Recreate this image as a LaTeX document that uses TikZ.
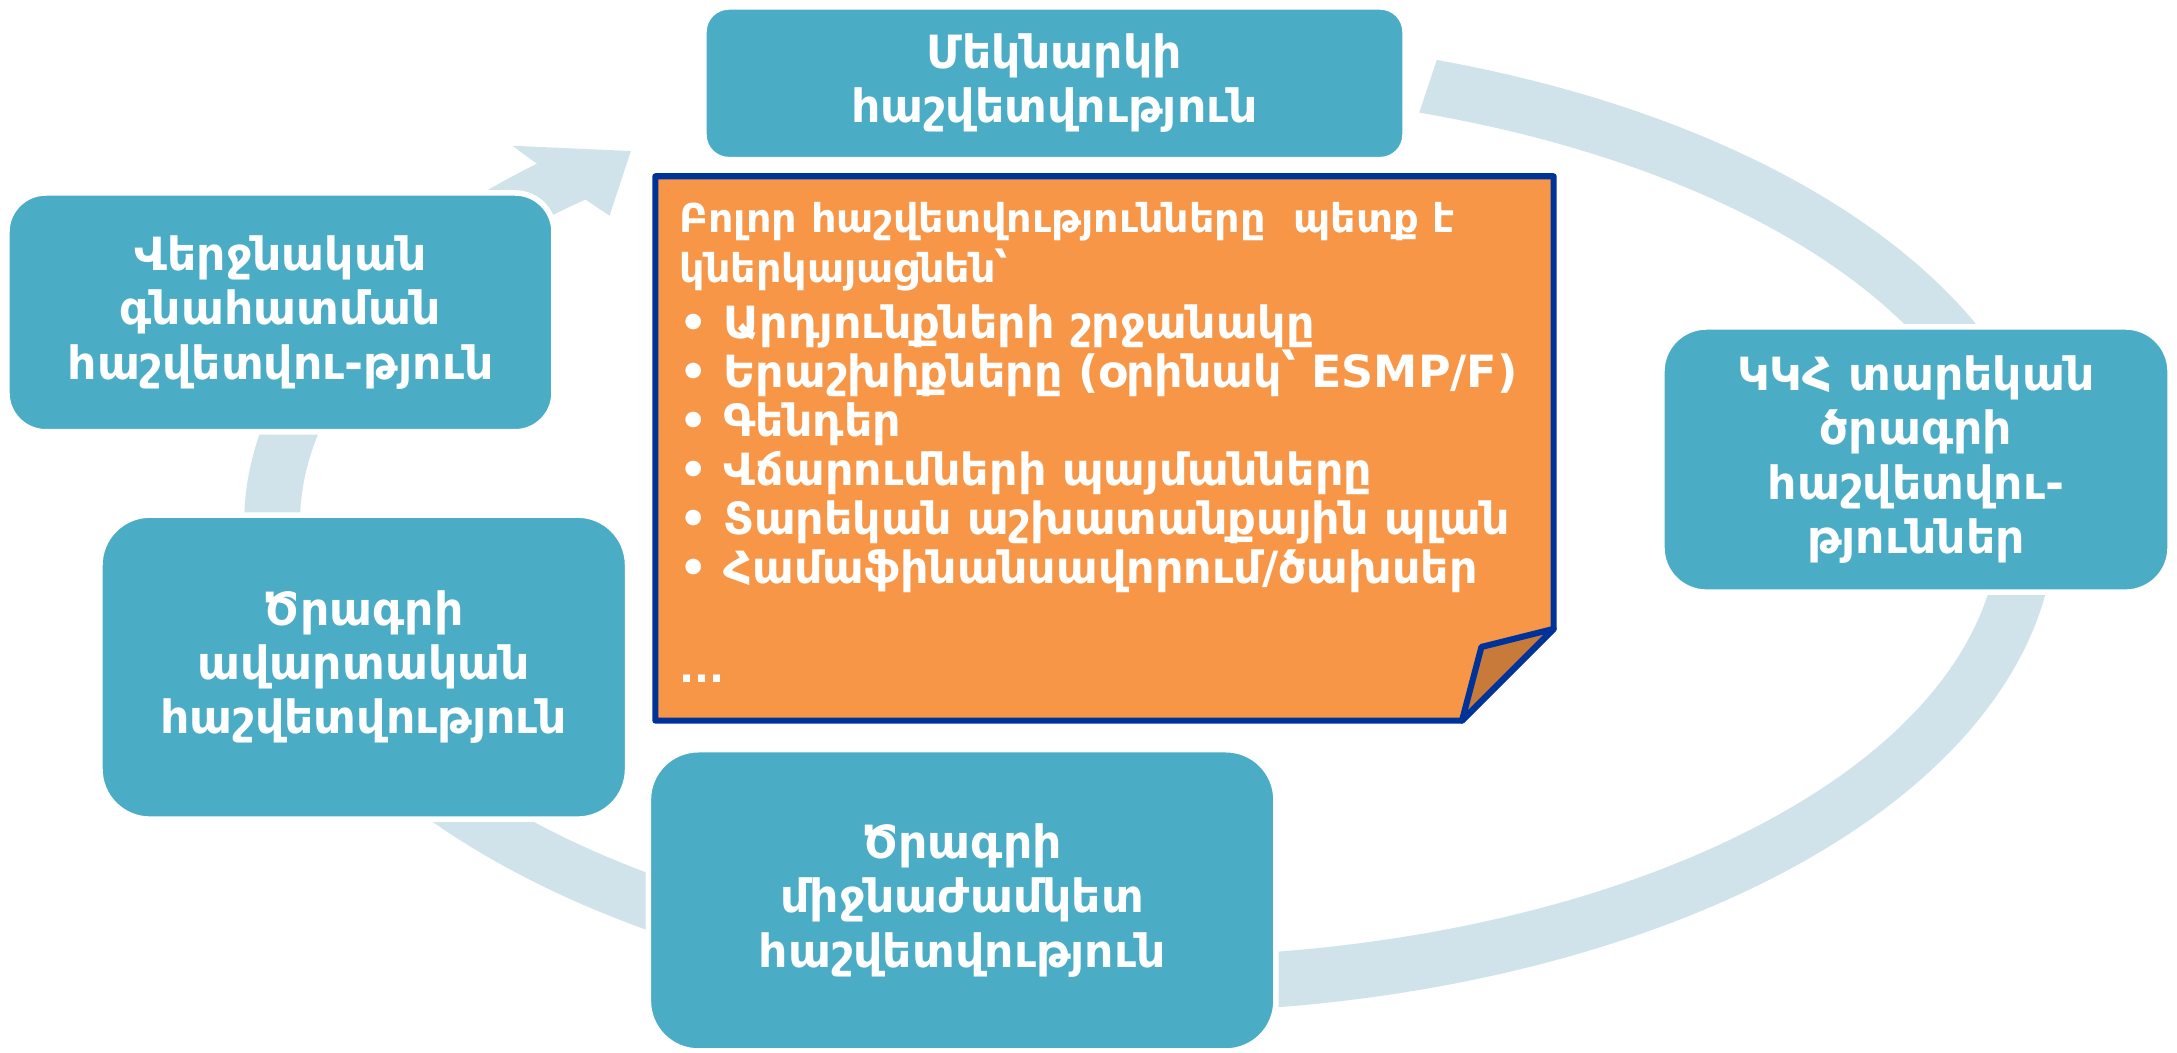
\documentclass[tikz,border=0pt]{standalone}
\usepackage{fontspec}
\setmainfont{DejaVu Sans}
\definecolor{ringc}{RGB}{208,227,234}
\definecolor{boxc}{RGB}{75,172,198}
\definecolor{orangec}{RGB}{247,150,70}
\definecolor{foldc}{RGB}{199,122,58}
\definecolor{navyc}{RGB}{0,51,153}
\newcommand\bulline[1]{{\fontsize{16}{17.7}\selectfont •\hspace{0.35em}#1}}
\begin{document}
\begin{tikzpicture}[x=0.5pt,y=0.5pt,
  stage/.style={draw=white, line width=2pt, fill=boxc, text=white,
    font=\bfseries\fontsize{16.5}{19.6}\selectfont, align=center, inner sep=0pt},
  note/.style={draw=navyc, line width=2.2pt, fill=orangec, line join=round},
  foldstyle/.style={draw=navyc, line width=2.2pt, fill=foldc, line join=round},
  notetext/.style={text=white, font=\bfseries\fontsize{14.3}{17.7}\selectfont,
    align=left, inner sep=0pt, anchor=north west}
]
\useasboundingbox (0,0) rectangle (1568,758);
% cycle ring
\fill[ringc] ([shift={(71.5:652 and 352)}]828,381)
  arc[start angle=71.5, end angle=-227.4, x radius=652, y radius=352]
  -- (369,653) -- (454.4,649.2) -- (439,602.6)
  -- ([shift={(-228.4:612 and 312)}]828,381)
  arc[start angle=-228.4, end angle=71.5, x radius=612, y radius=312]
  -- cycle;
% stage boxes
\node[stage, minimum width=252.5pt, minimum height=55pt, rounded corners=9pt] (start) at (759.5,698)
  {Մեկնարկի\\հաշվետվություն};
\node[stage, minimum width=183pt, minimum height=95.5pt, rounded corners=16pt] (annual) at (1380,427)
  {ԿԿՀ տարեկան\\ծրագրի\\հաշվետվու-\\թյուններ};
\node[stage, minimum width=226pt, minimum height=108.5pt, rounded corners=18pt] (mid) at (693,109.5)
  {Ծրագրի\\միջնաժամկետ\\հաշվետվություն};
\node[stage, minimum width=190pt, minimum height=109.5pt, rounded corners=18pt] (final) at (262,277.5)
  {Ծրագրի\\ավարտական\\հաշվետվություն};
\node[stage, minimum width=197pt, minimum height=86pt, rounded corners=14pt] (eval) at (202,533)
  {Վերջնական\\գնահատման\\հաշվետվու-թյուն};
% note with folded corner
\draw[note] (472,631) -- (1119,631) -- (1119,305) -- (1053,239) -- (472,239) -- cycle;
\draw[foldstyle] (1119,305) -- (1067,292) -- (1053,239) -- cycle;
\node[notetext] (notetxt) at (489,613) {Բոլոր հաշվետվությունները \ պետք է\\[0.4pt]
կներկայացնեն՝\\[2.4pt]
\bulline{Արդյունքների շրջանակը}\\
\bulline{Երաշխիքները (օրինակ՝ ESMP/F)}\\
\bulline{Գենդեր}\\
\bulline{Վճարումների պայմանները}\\
\bulline{Տարեկան աշխատանքային պլան}\\
\bulline{Համաֆինանսավորում/ծախսեր}\\
\mbox{}\\
...};
\end{tikzpicture}
\end{document}
